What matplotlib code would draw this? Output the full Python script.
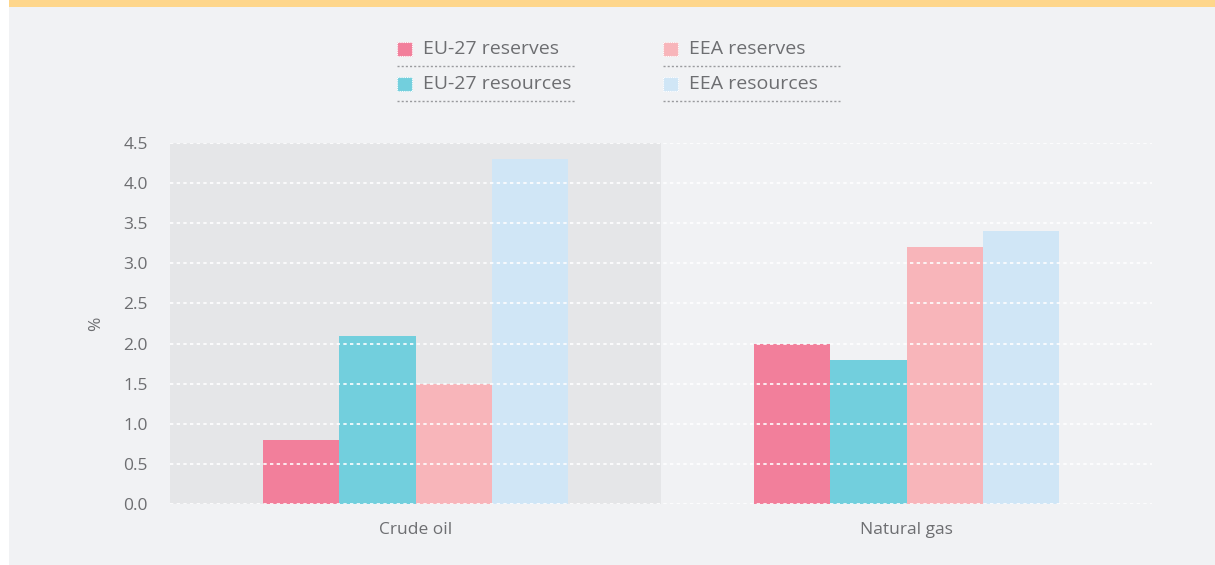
import numpy as np
import matplotlib.pyplot as plt
from matplotlib.patches import Rectangle
from matplotlib.lines import Line2D

plt.rcParams['font.family'] = ['Open Sans', 'DejaVu Sans']

categories = ['Crude oil', 'Natural gas']
series_names = ['EU-27 reserves', 'EU-27 resources', 'EEA reserves', 'EEA resources']
eu27_reserves = [0.8, 2.0]
eu27_resources = [2.1, 1.8]
eea_reserves = [1.5, 3.2]
eea_resources = [4.3, 3.4]
yticks = [0.0, 0.5, 1.0, 1.5, 2.0, 2.5, 3.0, 3.5, 4.0, 4.5]

colors = ['#f27f9b', '#72cfdd', '#f8b5ba', '#d0e6f6']
bg = '#f1f2f4'
band = '#e5e6e8'
txt = '#6d6e71'

W, H = 1215, 565
fig = plt.figure(figsize=(W / 100, H / 100), dpi=100, facecolor='white')

# panel background and top strip
fig.patches.append(Rectangle((9 / W, 0), 1 - 9 / W, 1, transform=fig.transFigure,
                             facecolor=bg, edgecolor='none', zorder=-10))
fig.patches.append(Rectangle((9 / W, 1 - 7 / H), 1 - 9 / W, 7 / H, transform=fig.transFigure,
                             facecolor='#fed68b', edgecolor='none', zorder=-9))

ax = fig.add_axes([170 / W, 1 - 504 / H, (1152 - 170) / W, (504 - 143) / H])
ax.set_facecolor('none')

x = np.arange(len(categories))
bw = 0.155
all_series = [eu27_reserves, eu27_resources, eea_reserves, eea_resources]
for i, vals in enumerate(all_series):
    ax.bar(x + (i - 1.5) * bw, vals, width=bw, color=colors[i], zorder=2, linewidth=0)

# shaded first category
ax.axvspan(-0.5, 0.5, color=band, zorder=0, linewidth=0)

ax.set_xlim(-0.5, 1.5)
ax.set_ylim(0, 4.5)
ax.set_yticks(yticks)
ax.set_yticklabels(['%.1f' % t for t in yticks])
ax.set_xticks(x)
ax.set_xticklabels(categories)
ax.tick_params(axis='both', length=0, colors=txt, labelsize=12.5)
ax.tick_params(axis='y', pad=16)
ax.tick_params(axis='x', pad=13)
for s in ax.spines.values():
    s.set_visible(False)
for t in yticks:
    ax.axhline(t, color='white', lw=1.2, ls=(0, (2, 2)), zorder=3)
ax.set_ylabel('%', color=txt, fontsize=12.5, labelpad=14)

# legend drawn by hand
rows = [(42, 66), (77, 101)]
cols = [(397, 575), (663, 840)]
for k, name in enumerate(series_names):
    c = k // 2
    r = k % 2
    x0, x1 = cols[c]
    ytop, yline = rows[r]
    fig.patches.append(Rectangle((x0 / W, 1 - (ytop + 14) / H), 15 / W, 14 / H,
                                 transform=fig.transFigure, facecolor=colors[k],
                                 edgecolor='white', lw=0.8, ls=(0, (1, 1))))
    fig.text((x0 + 26) / W, 1 - (ytop + 7) / H, name, color=txt, fontsize=14,
             va='center', ha='left')
    fig.lines.append(Line2D([x0 / W, x1 / W], [1 - yline / H, 1 - yline / H],
                            transform=fig.transFigure, color='#9a9b9e', lw=1,
                            ls=(0, (1.5, 1.5))))

fig.savefig('out.png', dpi=100, facecolor=fig.get_facecolor())
